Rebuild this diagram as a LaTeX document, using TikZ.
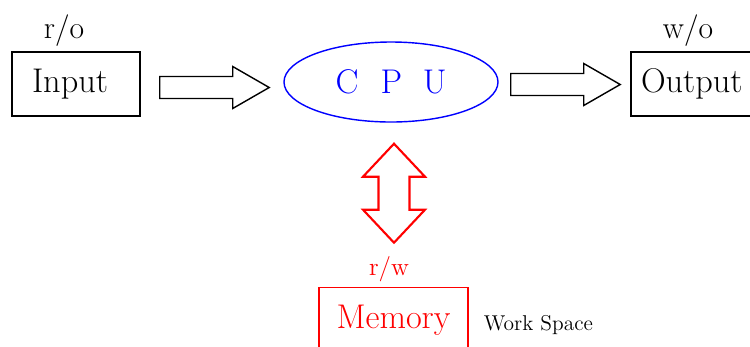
\documentclass[tikz,border=0pt]{standalone}
\usepackage{tikz}
\usetikzlibrary{calc,positioning,shapes.geometric}

\tikzset{
	box/.style={draw,thick,minimum width=2.56cm,minimum height=1.28cm,align=left},
	bigarrow/.pic={\draw[thick] (0,0.22) -- (1.46,0.22) -- (1.46,0.42) -- (2.19,0) -- (1.46,-0.42) -- (1.46,-0.22) -- (0,-0.22) -- cycle;}
}

\begin{document}
\begin{tikzpicture}[font=\fontsize{19.5}{23}\selectfont]
		\path[use as bounding box,clip] (0,0) rectangle (15,-6.92);
		\node[box,inner xsep=0.4cm,text width=1.76cm] (in) at (1.52,-1.68) {Input};
		\node[box,inner xsep=0.2cm,text width=2.16cm] (out) at (13.9,-1.68) {Output};
		\node[draw=blue,thick,ellipse,text=blue,minimum width=4.28cm,minimum height=1.6cm] (cpu) at (7.82,-1.64) {\raisebox{-0.06cm}{C\hspace{0.65em}P\hspace{0.6em}U}\hspace{0.16cm}};
		\node[draw=red,thick,text=red,minimum width=2.98cm,minimum height=1.31cm] (mem) at (7.87,-6.41) {Memory};
		%labels
		\node[font=\fontsize{18}{22}\selectfont] (ro) at (1.28,-0.61) {r/o};
		\node[font=\fontsize{18}{22}\selectfont] (wo) at (13.76,-0.61) {w/o};
		\node[red,font=\Large] (rw) at (7.78,-5.38) {r/w};
		\node[font=\fontsize{12.2}{15}\selectfont,right=0.18cm of mem,yshift=-0.09cm] (ws) {Work Space};
		%arrows
		\pic at ($(in.east)+(0.38,-0.07)$) {bigarrow};
		\pic at ($(cpu.east)+(0.24,-0.05)$) {bigarrow};
		\draw[red,very thick] ($(cpu.south)+(0.06,-0.42)$) coordinate (top) -- ++(0.62,-0.66) -- ++(-0.31,0) -- ++(0,-0.66) -- ++(0.31,0) -- ++(-0.62,-0.66) -- ++(-0.62,0.66) -- ++(0.31,0) -- ++(0,0.66) -- ++(-0.31,0) -- cycle;
\end{tikzpicture}
\end{document}
